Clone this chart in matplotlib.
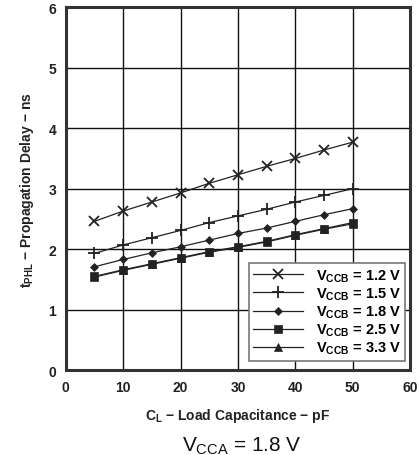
import numpy as np
import matplotlib
matplotlib.use("Agg")
import matplotlib.pyplot as plt

plt.rcParams["font.family"] = ["Liberation Sans", "DejaVu Sans"]
plt.rcParams["mathtext.fontset"] = "custom"
plt.rcParams["mathtext.rm"] = "Liberation Sans:bold"
plt.rcParams["mathtext.it"] = "Liberation Sans:weight=normal:style=normal"
plt.rcParams["mathtext.bf"] = "Liberation Sans:bold"

# Ємність навантаження, пФ
cap = [5, 10, 15, 20, 25, 30, 35, 40, 45, 50]

# Затримка tPHL, нс, для кожного VCCB
d_12 = [2.46, 2.63, 2.78, 2.93, 3.09, 3.23, 3.37, 3.50, 3.64, 3.77]
d_15 = [1.93, 2.07, 2.19, 2.31, 2.44, 2.55, 2.66, 2.78, 2.89, 3.00]
d_18 = [1.71, 1.83, 1.94, 2.04, 2.15, 2.26, 2.35, 2.46, 2.57, 2.67]
d_25 = [1.55, 1.66, 1.76, 1.86, 1.96, 2.04, 2.13, 2.24, 2.34, 2.44]
d_33 = [1.54, 1.65, 1.75, 1.85, 1.95, 2.03, 2.12, 2.23, 2.33, 2.42]

labels = ["1.2", "1.5", "1.8", "2.5", "3.3"]
series = [d_12, d_15, d_18, d_25, d_33]
markers = ["x", "+", "D", "s", "^"]
msizes = [7, 9, 4.5, 6, 6]

xticks = [0, 10, 20, 30, 40, 50, 60]
yticks = [0, 1, 2, 3, 4, 5, 6]

fig = plt.figure(figsize=(4.19, 4.56), dpi=100)
ax = fig.add_axes([0.157, 0.186, 0.822, 0.796])

for vals, lab, m, ms in zip(series, labels, markers, msizes):
    ax.plot(cap, vals, color="#222222", linewidth=0.9, marker=m,
            markersize=ms, markeredgewidth=1.3 if m in "x+" else 0.5,
            label=r"$\mathrm{V_{CCB}}$ = " + lab + " V")

ax.set_xlim(0, 60)
ax.set_ylim(0, 6)
ax.set_xticks(xticks)
ax.set_xticklabels([str(v) for v in xticks], fontweight="bold",
                   fontsize=10, color="#222222")
ax.set_yticks(yticks)
ax.set_yticklabels([str(v) for v in yticks], fontweight="bold",
                   fontsize=10, color="#222222")
ax.grid(True, color="#111111", linewidth=1.0)
ax.tick_params(length=0, pad=7)
for s in ax.spines.values():
    s.set_linewidth(2.2)
    s.set_color("#333333")

ax.set_xlabel(r"$\mathrm{C_L}$ − Load Capacitance − pF",
              fontsize=10, fontweight="bold", labelpad=9, color="#222222")
ax.set_ylabel(r"$\mathrm{t_{PHL}}$ − Propagation Delay − ns",
              fontsize=10, fontweight="bold", labelpad=9, color="#222222")

leg = ax.legend(loc="lower right", bbox_to_anchor=(0.986, 0.026),
                borderaxespad=0,
                prop={"weight": "bold", "size": 10.5}, fancybox=False,
                framealpha=1, edgecolor="#777777", handlelength=3.4,
                borderpad=0.3, labelspacing=0.12, handletextpad=0.9)
leg.get_frame().set_linewidth(1.2)

fig.text(0.577, 0.01, r"$\mathit{V_{CCA}}$ = 1.8 V",
         ha="center", fontsize=15, fontweight="normal", color="#111111")

fig.savefig("out.png", dpi=100)
